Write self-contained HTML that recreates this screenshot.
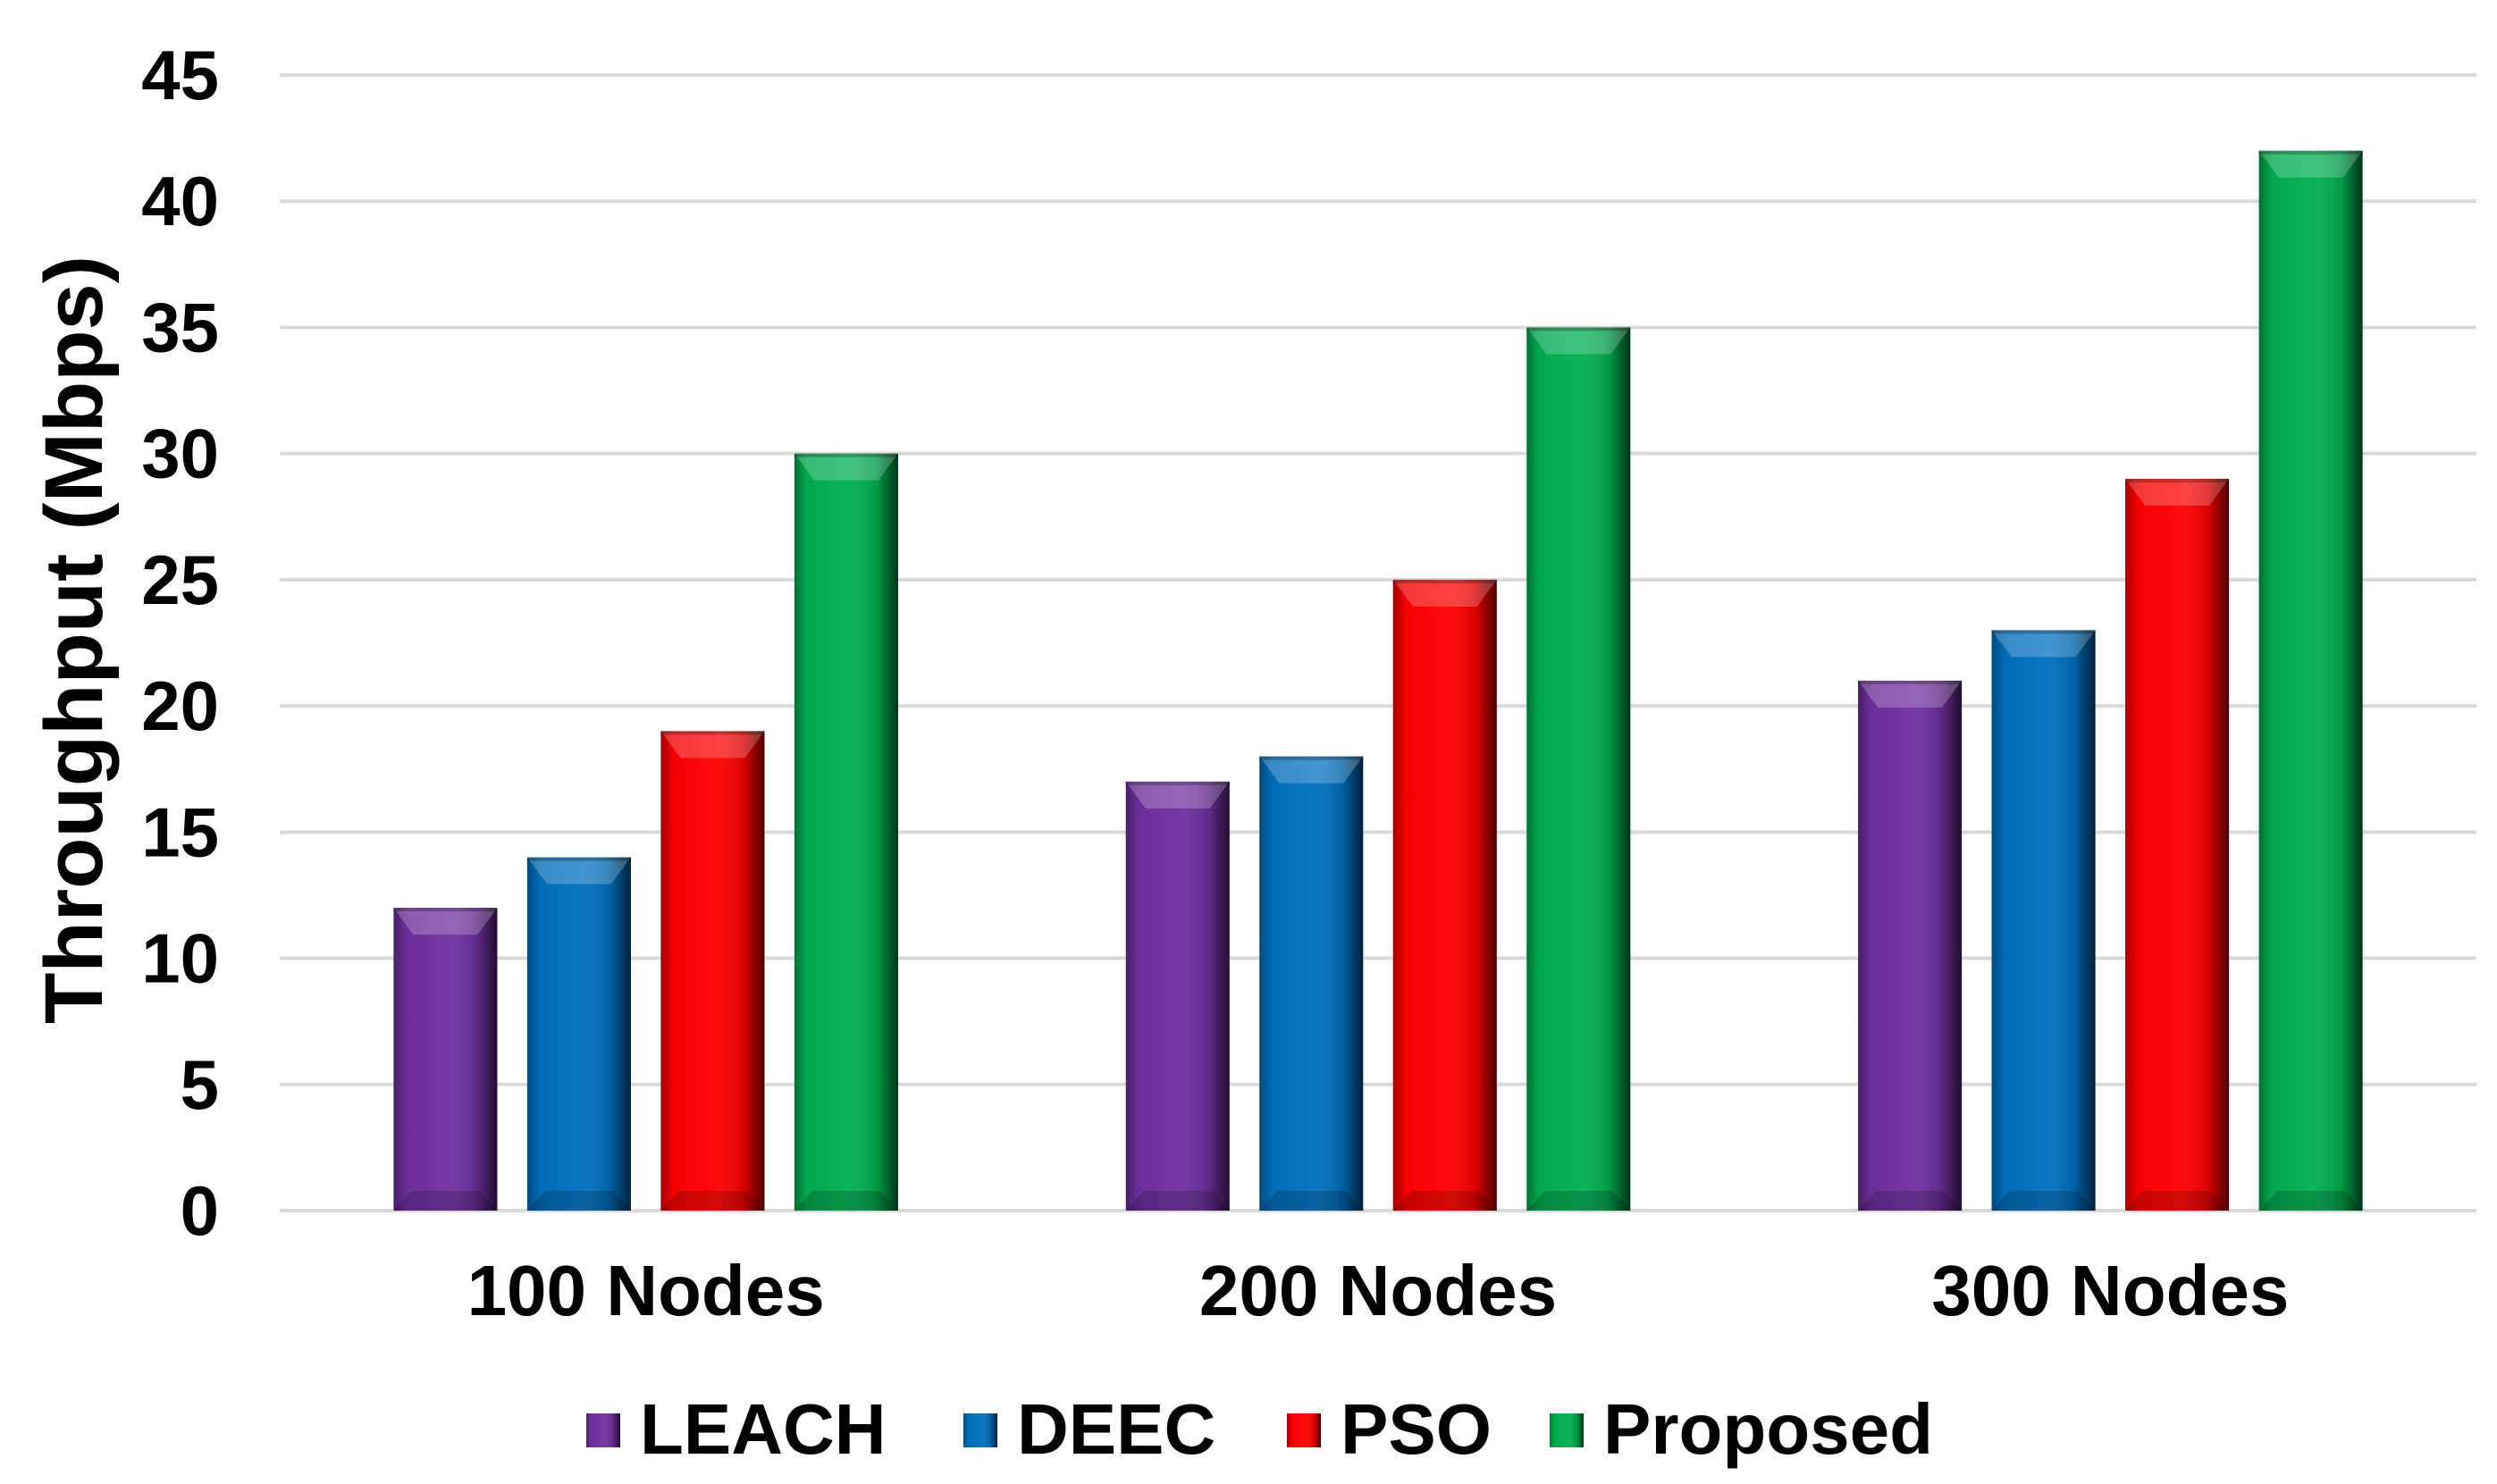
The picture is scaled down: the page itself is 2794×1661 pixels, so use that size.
<!DOCTYPE html>
<html><head><meta charset="utf-8"><style>
html,body{margin:0;padding:0;background:#fff;}
svg{display:block;font-family:"Liberation Sans",Arial,sans-serif;font-weight:bold;}
</style></head><body>
<svg id="chart" width="2794" height="1661" viewBox="0 0 2794 1661" xmlns="http://www.w3.org/2000/svg">
<defs>
<linearGradient id="gh" x1="0" x2="1" y1="0" y2="0">
<stop offset="0" stop-color="#000" stop-opacity="0.35"/>
<stop offset="0.12" stop-color="#000" stop-opacity="0.05"/>
<stop offset="0.5" stop-color="#fff" stop-opacity="0.04"/>
<stop offset="0.8" stop-color="#000" stop-opacity="0.15"/>
<stop offset="1" stop-color="#000" stop-opacity="0.7"/>
</linearGradient>
</defs>
<g id="grid"></g>
<g id="yticks"></g>
<g id="bars"></g>
<g id="xlabels"></g>
<text transform="translate(114,716) rotate(-90)" text-anchor="middle" font-size="92" textLength="860" lengthAdjust="spacingAndGlyphs" fill="#000">Throughput (Mbps)</text>
<g id="legend"></g>
</svg>
<script>
const categories = ["100 Nodes", "200 Nodes", "300 Nodes"];
const seriesNames = ["LEACH", "DEEC", "PSO", "Proposed"];
const leach = [12, 17, 21];
const deec = [14, 18, 23];
const pso = [19, 25, 29];
const proposed = [30, 35, 42];
const yTicks = [0, 5, 10, 15, 20, 25, 30, 35, 40, 45];

const series = [leach, deec, pso, proposed];
const colors = ["#7030a0", "#0070c0", "#ff0000", "#00b050"];
const NS = "http://www.w3.org/2000/svg";
const plotL = 313, plotR = 2771, y0 = 1355, y45 = 84;
const yMax = 45;
function yScale(v){ return y0 - (v / yMax) * (y0 - y45); }
const catW = (plotR - plotL) / categories.length;
function xCenter(i){ return plotL + catW * (i + 0.5); }
const barW = 116, step = 149.5;

function mk(tag, attrs, parent){
  const e = document.createElementNS(NS, tag);
  for (const k in attrs) e.setAttribute(k, attrs[k]);
  parent.appendChild(e);
  return e;
}
const grid = document.getElementById('grid');
const yt = document.getElementById('yticks');
yTicks.forEach(t => {
  const l = mk('line', {x1: plotL, x2: plotR, y1: yScale(t), y2: yScale(t), stroke: '#d9d9d9', 'stroke-width': 4}, grid);
  
  
  const tx = mk('text', {x: 245, y: yScale(t) + 27, 'text-anchor': 'end', 'font-size': 78, fill: '#000'}, yt);
  tx.textContent = t;
  
  
});

const bars = document.getElementById('bars');
categories.forEach((c, i) => {
  series.forEach((s, j) => {
    const x = xCenter(i) + (j - 1.5) * step - barW / 2;
    const top = yScale(s[i]);
    const h = y0 - top;
    const g = mk('g', {}, bars);
    
    
    mk('rect', {x: x, y: top, width: barW, height: h, fill: colors[j]}, g);
    mk('rect', {x: x, y: top, width: barW, height: h, fill: 'url(#gh)'}, g);
    mk('polygon', {points: `${x},${top} ${x+barW},${top} ${x+barW-22},${top+30} ${x+22},${top+30}`, fill: '#fff', 'fill-opacity': 0.22}, g);
    mk('rect', {x: x, y: top, width: barW, height: 4, fill: '#000', 'fill-opacity': 0.25}, g);
    mk('polygon', {points: `${x},${y0} ${x+barW},${y0} ${x+barW-20},${y0-22} ${x+20},${y0-22}`, fill: '#000', 'fill-opacity': 0.18}, g);
  });
  const lb = mk('text', {x: xCenter(i), y: 1472, 'text-anchor': 'middle', 'font-size': 80, fill: '#000'}, document.getElementById('xlabels'));
  lb.textContent = c;
  
  
});

const legend = document.getElementById('legend');
const legX = [656, 1078, 1440, 1734];
seriesNames.forEach((n, j) => {
  const g = mk('g', {}, legend);
  
  
  mk('rect', {x: legX[j], y: 1582, width: 38, height: 38, fill: colors[j]}, g);
  mk('rect', {x: legX[j], y: 1582, width: 38, height: 38, fill: 'url(#gh)'}, g);
  const t = mk('text', {x: legX[j] + 60, y: 1627, 'font-size': 80, fill: '#000'}, g);
  t.textContent = n;
});
</script>
</body></html>
